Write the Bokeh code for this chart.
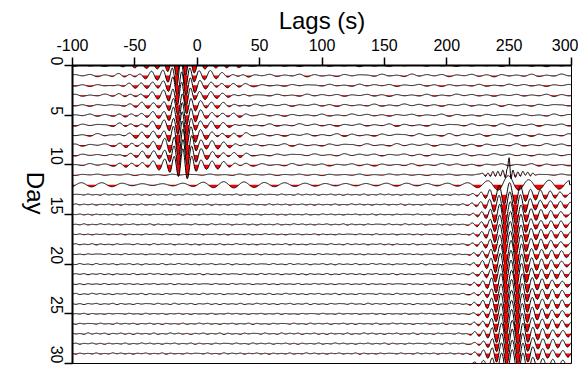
import numpy as np
from bokeh.plotting import figure
from bokeh.models import Range1d, FixedTicker
from bokeh.embed import file_html
from bokeh.resources import INLINE

# ---------------- data ----------------
days = list(range(31))
x_ticks = [-100, -50, 0, 50, 100, 150, 200, 250, 300]
x_tick_labels = ["-100", "-50", "0", "50", "100", "150", "200", "250", "300"]
y_ticks = [0, 5, 10, 15, 20, 25, 30]

# early arrival (days 0-10), centre lag (s) and peak amplitude (in day spacings)
early_days = [0, 1, 2, 3, 4, 5, 6, 7, 8, 9, 10]
early_center = [-13, -13, -12.5, -12.5, -12, -12, -12, -12, -11.5, -11.5, -11.5]
early_amp = [1.4, 1.5, 1.4, 1.3, 1.2, 1.3, 1.3, 1.5, 1.6, 1.6, 1.6]

# late arrival (days 13-30)
late_days = list(range(13, 31))
late_center = [250.5, 250.5, 251, 251, 251, 251, 251.5, 251.5, 251.5,
               252, 252, 252, 252, 252, 252.5, 252.5, 252.5, 252.5]
late_amp = [1.2, 1.3, 1.3, 1.3, 1.3, 1.3, 1.35, 1.4, 1.4,
            1.4, 1.4, 1.4, 1.4, 1.4, 1.4, 1.4, 1.4, 1.4]

# wavelet extrema (offset from centre in s, relative value)
w1_offsets = [-60, -55, -50.5, -46, -41.5, -37, -32.5, -28, -23.5, -19, -14.5, -10.5, -7, -3.5, 0,
              3.5, 7, 10.5, 14.5, 19, 23.5, 28, 32.5, 37, 41.5, 46, 50.5, 55, 60]
w1_values = [0, -0.05, 0.07, -0.09, 0.11, -0.14, 0.16, -0.2, 0.24, -0.28, 0.34, -0.45, 0.55, -0.8, 1.0,
             -0.8, 0.55, -0.45, 0.34, -0.28, 0.24, -0.2, 0.16, -0.14, 0.11, -0.09, 0.07, -0.05, 0]
w2_offsets = [-37, -33.5, -30, -26.5, -23, -19.5, -16, -12.5, -8.5, -4.5, 0,
              4.5, 8.5, 12.5, 16.5, 20.5, 24.5, 28.5, 32.5, 36.5, 40.5, 44.5, 48.5, 53]
w2_values = [0, -0.06, 0.1, -0.16, 0.22, -0.3, 0.4, -0.6, 0.75, -0.85, 1.0,
             -0.85, 0.75, -0.6, 0.45, -0.42, 0.36, -0.36, 0.3, -0.3, 0.24, -0.24, 0.15, 0]

# day 11: spike near 250 s (lag, value in day spacings)
d11_lags = [226, 229, 231, 233, 235, 237, 239, 241, 243, 245, 247, 248.5, 250,
            251.5, 253, 255, 257, 259, 261, 263, 265, 267, 269, 271, 274]
d11_values = [0, 0.15, -0.1, 0.25, -0.15, 0.3, -0.2, 0.35, -0.1, 0.5, -0.3, 0.6, 1.7,
              -0.4, 0.5, -0.2, 0.35, -0.15, 0.3, -0.1, 0.25, -0.1, 0.2, -0.05, 0]

# day 12: long-period oscillation, extrema every 8.15 s starting at -101.1 s
d12_start = -101.1
d12_step = 8.15
d12_values = [-0.2, 0.2, -0.22, 0.2, -0.2, 0.15, -0.1, 0.1, -0.08, 0.1,
              -0.12, 0.15, -0.18, 0.25, -0.3, 0.3, -0.32, 0.28, -0.28, 0.22,
              -0.2, 0.2, -0.18, 0.15, -0.15, 0.12, -0.12, 0.12, -0.12, 0.12,
              -0.12, 0.15, -0.15, 0.15, -0.12, 0.12, -0.12, 0.15, -0.15, 0.2,
              -0.3, 0.4, -0.55, 0.9, -0.55, 0.5, -0.5, 0.45, -0.45, 0.4]

# background noise: level and half period per day, plus a hand-read pattern
noise_amp = [0.12, 0.14, 0.12, 0.12, 0.13, 0.12, 0.14, 0.15, 0.14, 0.12, 0.13, 0.08, 0.0,
             0.07, 0.07, 0.06, 0.07, 0.06, 0.07, 0.06, 0.07, 0.07, 0.06, 0.07, 0.07,
             0.06, 0.07, 0.08, 0.07, 0.07, 0.0]
noise_half = [6.0] * 12 + [4.0] + [3.3] * 18
noise_pattern = [0.3, -0.6, 0.9, -0.4, 0.2, -0.8, 1.0, -0.5, 0.6, -0.3, 0.7, -0.9, 0.4, -0.2,
                 0.8, -0.7, 0.5, -1.0, 0.6, -0.4, 0.3, -0.6, 0.9, -0.8, 0.2, -0.5, 1.0, -0.3,
                 0.7, -0.6, 0.4, -0.9, 0.5, -0.2, 0.8, -0.7, 0.3, -0.4, 0.9, -1.0, 0.6, -0.5,
                 0.2, -0.8, 0.7, -0.3, 0.5]


# ---------------- helpers ----------------
def smooth_through(x, t, v):
    """Half-cosine curve passing through the extrema (t, v)."""
    t = np.asarray(t, float)
    v = np.asarray(v, float)
    out = np.zeros_like(x)
    inside = (x >= t[0]) & (x <= t[-1])
    k = np.clip(np.searchsorted(t, x[inside], side="right") - 1, 0, len(t) - 2)
    u = (x[inside] - t[k]) / (t[k + 1] - t[k])
    out[inside] = v[k] + (v[k + 1] - v[k]) * (1 - np.cos(np.pi * u)) / 2
    return out


lags = np.arange(-100, 300.001, 0.25)

p = figure(width=578, height=373, x_range=Range1d(-100, 300), y_range=Range1d(30, 0),
           output_backend="svg", toolbar_location=None, x_axis_location="above",
           min_border_left=72, min_border_top=65, min_border_right=7, min_border_bottom=10)
p.background_fill_color = "white"
p.border_fill_color = "white"
p.outline_line_color = "black"
p.outline_line_width = 1
p.xgrid.visible = False
p.ygrid.visible = False

for d in days:
    s = np.zeros_like(lags)
    if d in early_days:
        i = early_days.index(d)
        s += early_amp[i] * smooth_through(lags, np.array(w1_offsets) + early_center[i], w1_values)
    if d in late_days:
        i = late_days.index(d)
        s += late_amp[i] * smooth_through(lags, np.array(w2_offsets) + late_center[i], w2_values)
    if d == 11:
        s += smooth_through(lags, d11_lags, d11_values)
    if d == 12:
        t12 = d12_start + d12_step * np.arange(len(d12_values))
        s += smooth_through(lags, t12, d12_values)
    if noise_amp[d] > 0:
        n = int(420 / noise_half[d]) + 2
        tn = -104 + noise_half[d] * np.arange(n)
        vn = [noise_pattern[(j + 7 * d) % len(noise_pattern)] * noise_amp[d] for j in range(n)]
        s += smooth_through(lags, tn, vn)
    y = d - s
    p.varea(x=lags, y1=np.full_like(lags, d), y2=np.where(s < 0, y, d), fill_color="#ff0000")
    p.line(lags, y, line_color="black", line_width=1.0)

ax = p.xaxis[0]
ax.ticker = FixedTicker(ticks=x_ticks)
ax.major_label_overrides = {t: lab for t, lab in zip(x_ticks, x_tick_labels)}
ax.axis_label = "Lags (s)"
ax.axis_label_text_font = "Liberation Sans"
ax.axis_label_text_font_size = "24px"
ax.axis_label_text_font_style = "normal"
ax.axis_label_text_color = "black"
ax.axis_label_standoff = 2
ax.major_label_text_font = "Liberation Sans"
ax.major_label_text_font_size = "16px"
ax.major_label_text_color = "black"
ax.major_tick_out = 8
ax.major_tick_in = 0
ax.minor_tick_out = 0
ax.minor_tick_in = 0
ax.major_tick_line_width = 1.5
ax.axis_line_width = 2
ax.major_label_standoff = 7

ay = p.yaxis[0]
ay.ticker = FixedTicker(ticks=y_ticks)
ay.axis_label = "Day"
ay.axis_label_text_font = "Liberation Sans"
ay.axis_label_text_font_size = "24px"
ay.axis_label_text_font_style = "normal"
ay.axis_label_text_color = "black"
ay.axis_label_standoff = 6
if "axis_label_orientation" in ay.properties():
    ay.axis_label_orientation = -np.pi / 2
ay.major_label_text_font = "Liberation Sans"
ay.major_label_text_font_size = "16px"
ay.major_label_text_color = "black"
ay.major_label_orientation = -np.pi / 2
ay.major_tick_out = 8
ay.major_tick_in = 0
ay.minor_tick_out = 0
ay.minor_tick_in = 0
ay.major_tick_line_width = 1.5
ay.axis_line_width = 2
ay.major_label_standoff = 8

open("out.html", "w").write(file_html(p, INLINE))
